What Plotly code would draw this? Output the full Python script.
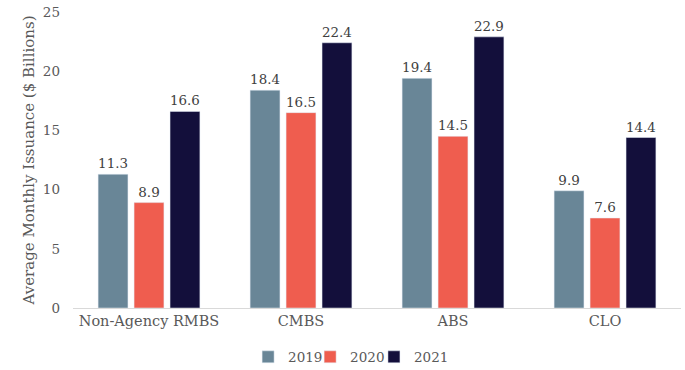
import plotly.graph_objects as go

categories = ["Non-Agency RMBS", "CMBS", "ABS", "CLO"]
years = ["2019", "2020", "2021"]
v2019 = [11.3, 18.4, 19.4, 9.9]
v2020 = [8.9, 16.5, 14.5, 7.6]
v2021 = [16.6, 22.4, 22.9, 14.4]
colors = ["#698697", "#ef5d4f", "#130f3b"]

FONT = "Georgia, 'DejaVu Serif', serif"
legend_ids = ["legend", "legend2", "legend3"]
legend_x = [0.288, 0.390, 0.495]

fig = go.Figure()
for name, vals, c, lg in zip(years, [v2019, v2020, v2021], colors, legend_ids):
    fig.add_trace(go.Bar(
        x=categories, y=vals, name=name, marker_color=c, legend=lg,
        showlegend=True,
        text=[f"{v:.1f}" for v in vals], textposition="outside",
        textfont=dict(size=13.5, color="#404040", family=FONT),
        cliponaxis=False,
    ))

legend_style = dict(orientation="h", xanchor="left", yref="container",
                    y=0.035, yanchor="middle", bgcolor="rgba(0,0,0,0)",
                    font=dict(size=13.5, color="#595959"), itemwidth=30)

fig.update_layout(
    width=685, height=370,
    showlegend=True,
    margin=dict(l=73, r=4, t=12, b=62),
    paper_bgcolor="white", plot_bgcolor="white",
    barmode="group", bargap=0.29, bargroupgap=0.17,
    font=dict(family=FONT, color="#595959", size=13),
    xaxis=dict(showline=True, linecolor="#d9d9d9", linewidth=1, ticks="",
               tickfont=dict(size=14.5, color="#595959")),
    yaxis=dict(range=[0, 25], dtick=5, showgrid=False, zeroline=False,
               tickfont=dict(size=13.5, color="#595959"), ticklabelstandoff=12,
               title=dict(text="Average Monthly Issuance ($ Billions)", standoff=4,
                          font=dict(size=15, color="#595959"))),
)
for lg, lx in zip(legend_ids, legend_x):
    fig.update_layout({lg: dict(legend_style, x=lx)})

fig.write_html("out.html")
